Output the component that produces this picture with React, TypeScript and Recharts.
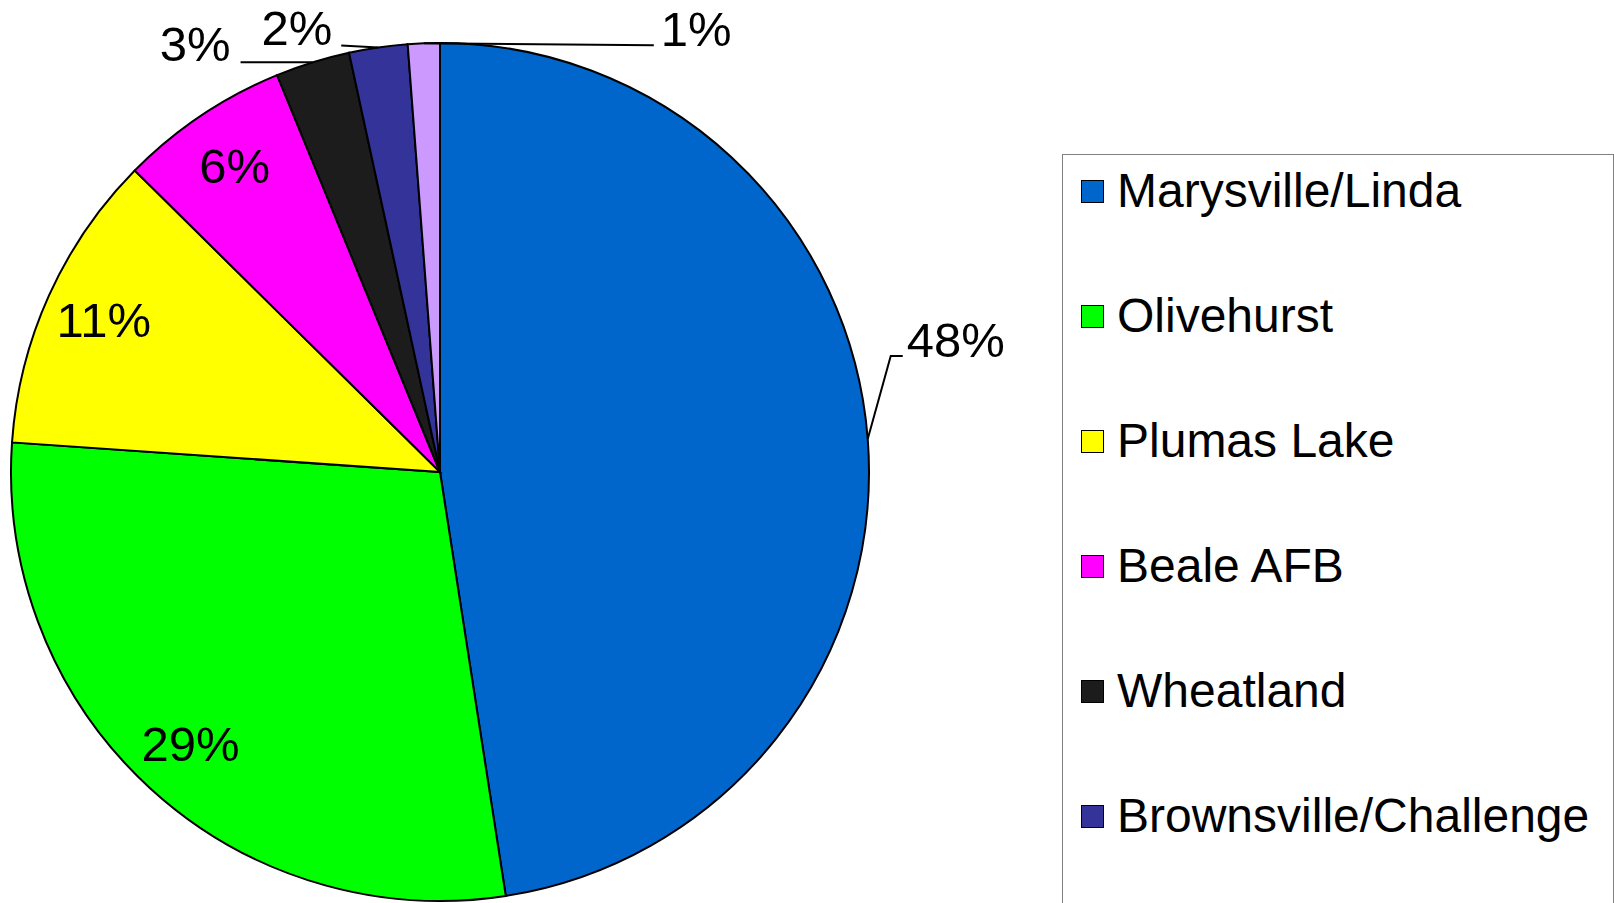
import { PieChart, Pie, Cell, Legend } from "recharts";

const AREAS = [
  "Marysville/Linda",
  "Olivehurst",
  "Plumas Lake",
  "Beale AFB",
  "Wheatland",
  "Brownsville/Challenge",
  "Other",
];
const SHARES = [47.55, 28.55, 11.3, 6.4, 2.8, 2.2, 1.2];
const COLORS = ["#0066CC", "#00FF00", "#FFFF00", "#FF00FF", "#1C1C1C", "#333399", "#CC99FF"];

const data = AREAS.map((name, i) => ({ name, value: SHARES[i] }));

const RAD = Math.PI / 180;
const FONT = "'Liberation Sans', Arial, sans-serif";
const LABEL_SIZE = 49;

// outside labels: leader points and text offset relative to the slice edge
const OUTSIDE: Record<number, { pts: number[][]; tx: number; ty: number; anchor: string }> = {
  0: { pts: [[0, 0], [23, -83], [35, -83]], tx: 39, ty: -82, anchor: "start" },
  4: { pts: [[0, 0], [-72, 0]], tx: -82, ty: -1, anchor: "end" },
  5: { pts: [[0, 0], [-37, -2]], tx: -46, ty: -2, anchor: "end" },
  6: { pts: [[0, 0], [230, 2]], tx: 237, ty: 3, anchor: "start" },
};

const renderLabel = (props: any) => {
  const { cx, cy, midAngle, outerRadius, percent, index } = props;
  const text = `${Math.round(percent * 100)}%`;
  const cos = Math.cos(-midAngle * RAD);
  const sin = Math.sin(-midAngle * RAD);
  const out = OUTSIDE[index];
  if (out) {
    const ex = cx + outerRadius * cos;
    const ey = cy + outerRadius * sin;
    const d = out.pts.map((p, k) => `${k ? "L" : "M"}${ex + p[0]},${ey + p[1]}`).join(" ");
    return (
      <g key={`lbl-${index}`}>
        <path d={d} stroke="#000" strokeWidth={2} fill="none" />
        <text
          x={ex + out.tx}
          y={ey + out.ty}
          textAnchor={out.anchor as any}
          fontSize={LABEL_SIZE}
          fontFamily={FONT}
          fill="#000"
        >
          {text}
        </text>
      </g>
    );
  }
  const r = outerRadius * 0.86;
  return (
    <text
      key={`lbl-${index}`}
      x={cx + r * cos}
      y={cy + r * sin}
      textAnchor="middle"
      dominantBaseline="central"
      fontSize={LABEL_SIZE}
      fontFamily={FONT}
      fill="#000"
    >
      {text}
    </text>
  );
};

// only the first six entries fit inside the visible frame
const renderLegend = () => (
  <div
    style={{
      position: "relative",
      width: 550,
      height: 800,
      border: "1px solid #808080",
      background: "#fff",
      fontFamily: FONT,
    }}
  >
    {AREAS.slice(0, 6).map((name, i) => (
      <div
        key={name}
        style={{
          position: "absolute",
          left: 18,
          top: 36 + i * 125,
          transform: "translateY(-50%)",
          display: "flex",
          alignItems: "center",
          whiteSpace: "nowrap",
        }}
      >
        <span
          style={{
            display: "inline-block",
            width: 21,
            height: 21,
            background: COLORS[i],
            border: "1.5px solid #000",
            marginRight: 13,
          }}
        />
        <span style={{ fontSize: 48, color: "#000", lineHeight: 1 }}>{name}</span>
      </div>
    ))}
  </div>
);

export default function App() {
  return (
    <div style={{ position: "absolute", left: 0, top: 0, width: 1614, height: 903, overflow: "hidden", background: "#fff" }}>
      <PieChart width={1614} height={903} margin={{ top: 0, right: 0, bottom: 0, left: 0 }}>
        <Pie
          data={data}
          dataKey="value"
          nameKey="name"
          cx={440}
          cy={472}
          outerRadius={429}
          startAngle={90}
          endAngle={-270}
          stroke="#000"
          strokeWidth={2}
          label={renderLabel}
          labelLine={false}
          isAnimationActive={false}
        >
          {data.map((d, i) => (
            <Cell key={d.name} fill={COLORS[i]} />
          ))}
        </Pie>
        <Legend
          content={renderLegend}
          wrapperStyle={{ position: "absolute", left: 1062, top: 154, width: 552, height: 760 }}
        />
      </PieChart>
    </div>
  );
}
